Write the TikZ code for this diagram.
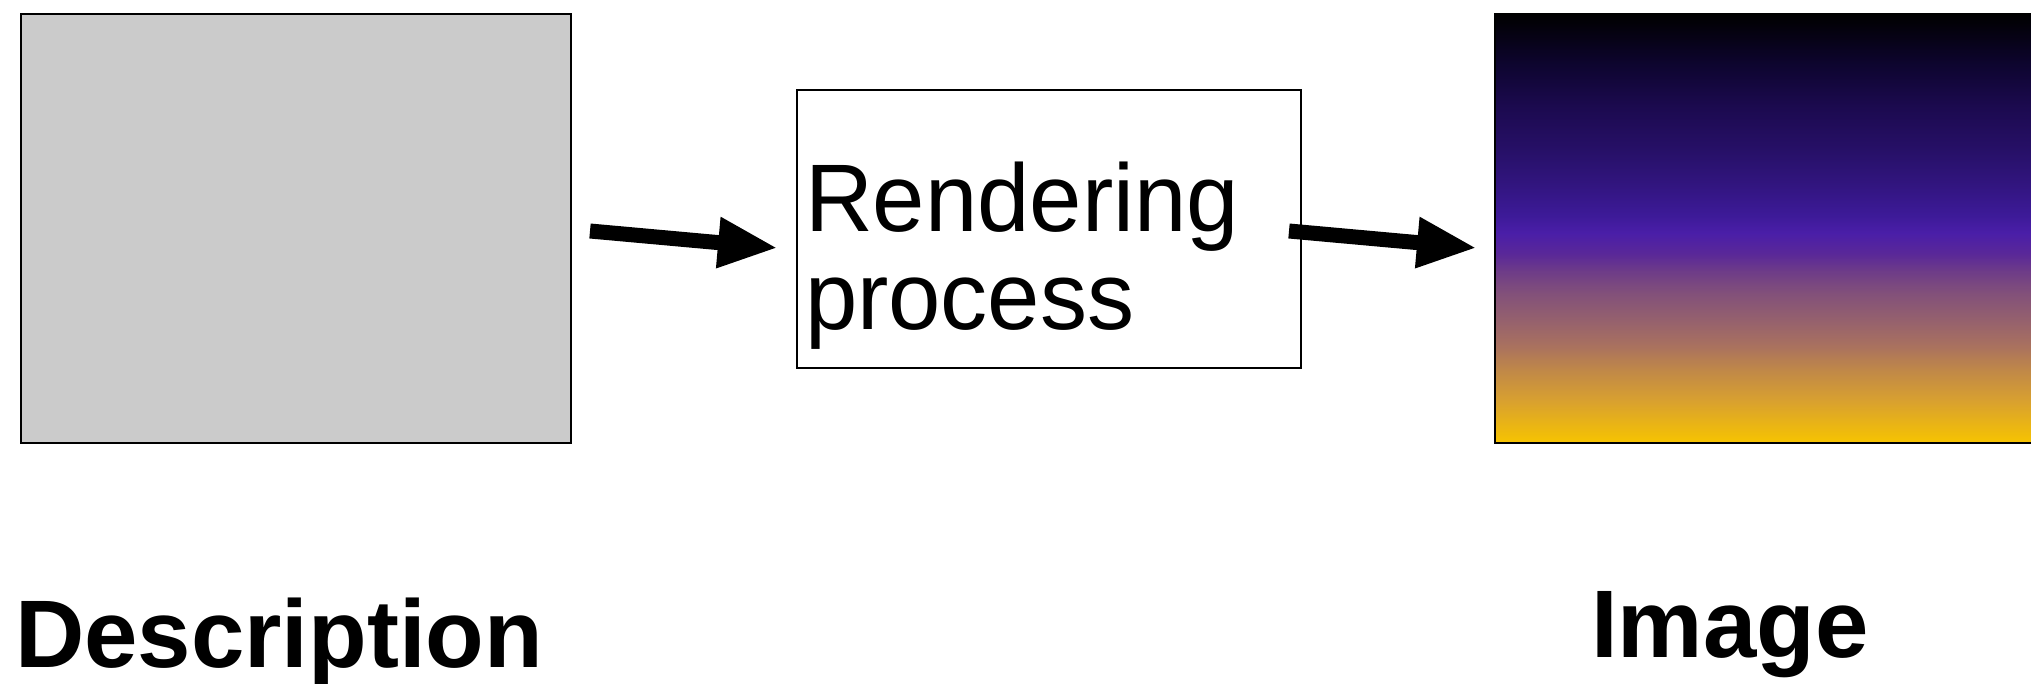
\documentclass[tikz,border=0pt]{standalone}
\usepackage{fontspec}
\setmainfont{Liberation Sans}
\newfontfamily\condfont[FakeStretch=0.98]{Liberation Sans}
\newfontfamily\boldlabelfont{Liberation Sans}
\usetikzlibrary{arrows.meta}
\definecolor{descgray}{HTML}{CBCBCB}
\definecolor{sA}{RGB}{247,196,0}
\definecolor{sB}{RGB}{216,160,48}
\definecolor{sC}{RGB}{192,136,72}
\definecolor{sD}{RGB}{168,112,96}
\definecolor{sE}{RGB}{148,96,110}
\definecolor{sF}{RGB}{130,80,122}
\definecolor{sG}{RGB}{110,60,136}
\definecolor{sH}{RGB}{90,40,152}
\definecolor{sI}{RGB}{74,30,168}
\definecolor{sJ}{RGB}{61,26,152}
\definecolor{sK}{RGB}{50,21,128}
\definecolor{sL}{RGB}{39,16,104}
\definecolor{sM}{RGB}{28,10,80}
\definecolor{sN}{RGB}{14,5,48}
\definecolor{sO}{RGB}{0,0,0}
\pgfdeclareverticalshading{sky}{100bp}{color(0bp)=(sA); color(25bp)=(sA); color(30bp)=(sB); color(33.5bp)=(sC); color(36.5bp)=(sD); color(39.5bp)=(sE); color(42.5bp)=(sF); color(45bp)=(sG); color(47bp)=(sH); color(49.5bp)=(sI); color(51.5bp)=(sJ); color(55bp)=(sK); color(59bp)=(sL); color(64bp)=(sM); color(69bp)=(sN); color(75bp)=(sO); color(100bp)=(sO)}
\tikzset{
  panel/.style={rectangle, inner sep=0pt, outer sep=0pt, anchor=north west},
  arr/.style={line width=15pt, -{Triangle[length=60pt,width=47pt]}},
  lbl/.style={inner sep=0pt, outer sep=0pt, anchor=base west, font=\condfont\fontsize{96}{98}\selectfont},
  bold lbl/.style={lbl, font=\boldlabelfont\bfseries\fontsize{96}{98}\selectfont}
}
\begin{document}
\begin{tikzpicture}[x=1pt, y=-1pt]
\useasboundingbox (0,0) rectangle (2031,684);
\fill[white] (0,0) rectangle (2031,684);
% description panel
\node[panel, draw=black, line width=2pt, fill=descgray, minimum width=550pt, minimum height=429pt] (desc) at (21,14) {};
% rendering process box
\node[panel, draw=black, line width=2pt, fill=white, minimum width=504pt, minimum height=278pt] (proc) at (797,90) {};
\node[lbl, align=left] (proctext) at (805,330) {Rendering\\process};
% image panel
\node[panel, shading=sky, minimum width=536pt, minimum height=429pt] (img) at (1495,14) {};
\draw[line width=2pt] (img.north east) -- (img.north west) -- (img.south west) -- (img.south east);
% arrows
\draw[arr] ([xshift=19pt, yshift=-2.5pt]desc.east) -- ([xshift=-19pt, yshift=-19pt]proc.west);
\draw[arr] ([xshift=-12pt, yshift=-2pt]proc.east) -- ([xshift=-18pt, yshift=-19.5pt]img.west);
% labels
\node[bold lbl] (desclabel) at (15,667) {Description};
\node[bold lbl] (imglabel) at (1591,657) {Image};
\end{tikzpicture}
\end{document}
